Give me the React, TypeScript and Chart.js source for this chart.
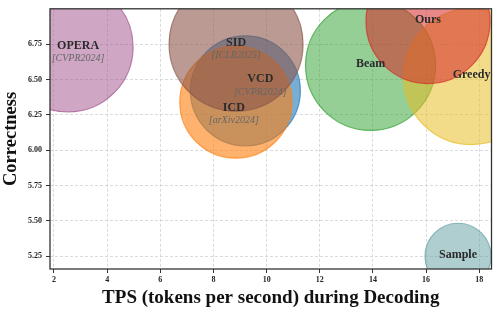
import { useEffect, useRef } from 'react';
import { Chart, registerables } from 'chart.js';

Chart.register(...registerables);

// ---- data (listed in drawing order: later points are painted on top) ----
const methods = ['OPERA', 'VCD', 'ICD', 'SID', 'Beam', 'Greedy', 'Ours', 'Sample'];
const venues = ['[CVPR2024]', '[CVPR2024]', '[arXiv2024]', '[ICLR2025]', '', '', '', ''];
const tps = [2.53, 9.2, 8.84, 8.85, 13.91, 17.71, 16.07, 17.2];
const correctness = [6.73, 6.42, 6.34, 6.75, 6.6, 6.52, 6.91, 5.25];
const bubbleSize = [65, 55, 56, 67, 65, 68, 62, 33];
const xTicks = [2, 4, 6, 8, 10, 12, 14, 16, 18];
const yTicks = [5.25, 5.5, 5.75, 6.0, 6.25, 6.5, 6.75];

// ---- styles ----
const fills = [
  'rgba(160,80,140,0.5)',
  'rgba(31,119,180,0.6)',
  'rgba(255,127,14,0.6)',
  'rgba(140,86,75,0.6)',
  'rgba(44,160,44,0.5)',
  'rgba(232,190,40,0.55)',
  'rgba(214,39,40,0.55)',
  'rgba(95,158,160,0.5)',
];
const edges = [
  'rgba(160,80,140,0.7)',
  'rgba(31,119,180,0.7)',
  'rgba(255,127,14,0.7)',
  'rgba(140,86,75,0.7)',
  'rgba(44,160,44,0.7)',
  'rgba(232,190,40,0.7)',
  'rgba(214,39,40,0.7)',
  'rgba(95,158,160,0.7)',
];
// label placement offsets (px) relative to the bubble centre
const labelDx = [10, 15, -2, 0, 0, 0, 0, 0];
const labelDy = [-1.5, -11.5, 5.5, -1.5, -1.5, -1.5, -1.5, -1];

const SERIF = "'Liberation Serif', 'Times New Roman', serif";

const labelPlugin = {
  id: 'bubbleLabels',
  afterDatasetsDraw(chart: any) {
    const { ctx, chartArea } = chart;
    const meta = chart.getDatasetMeta(0);
    ctx.save();
    ctx.beginPath();
    ctx.rect(chartArea.left, chartArea.top, chartArea.right - chartArea.left, chartArea.bottom - chartArea.top);
    ctx.clip();
    ctx.textAlign = 'center';
    ctx.textBaseline = 'middle';
    meta.data.forEach((el: any, i: number) => {
      const x = el.x + labelDx[i];
      const y = el.y + labelDy[i];
      ctx.fillStyle = '#2b2b2b';
      ctx.font = `bold 12px ${SERIF}`;
      ctx.fillText(methods[i], x, y);
      if (venues[i]) {
        ctx.fillStyle = '#666666';
        ctx.font = `italic 10px ${SERIF}`;
        ctx.fillText(venues[i], x, y + 13);
      }
    });
    ctx.restore();
  },
  afterDraw(chart: any) {
    const { ctx, chartArea } = chart;
    ctx.save();
    ctx.strokeStyle = '#333333';
    ctx.lineWidth = 1.3;
    ctx.strokeRect(chartArea.left, chartArea.top, chartArea.right - chartArea.left, chartArea.bottom - chartArea.top);
    ctx.restore();
  },
};

export default function App() {
  const ref = useRef<HTMLCanvasElement>(null);
  useEffect(() => {
    document.body.style.margin = '0';
    const chart = new Chart(ref.current as HTMLCanvasElement, {
      type: 'bubble',
      data: {
        datasets: [
          {
            data: methods.map((_, i) => ({ x: tps[i], y: correctness[i], r: bubbleSize[i] })),
            backgroundColor: fills,
            borderColor: edges,
            borderWidth: 1.2,
            clip: 0,
          } as any,
        ],
      },
      options: {
        responsive: false,
        animation: false,
        events: [],
        layout: { autoPadding: false, padding: { top: 5, right: 6.5, left: 0, bottom: 0 } },
        plugins: { legend: { display: false }, tooltip: { enabled: false } },
        scales: {
          x: {
            type: 'linear',
            min: 1.85,
            max: 18.46,
            afterBuildTicks: (s: any) => {
              s.ticks = xTicks.map((v) => ({ value: v }));
            },
            afterFit: (s: any) => {
              s.height = 44;
            },
            ticks: {
              font: { family: SERIF, size: 8, weight: 'bold' },
              color: '#222',
              padding: 2,
              maxRotation: 0,
              callback: (v: any) => String(v),
            },
            grid: {
              color: '#d0d0d0',
              lineWidth: 0.8,
              tickLength: 4,
              tickColor: '#333',
              tickWidth: 1,
            },
            border: { display: false, dash: [3, 2] },
            title: {
              display: true,
              text: 'TPS (tokens per second) during Decoding',
              font: { family: SERIF, size: 19, weight: 'bold' },
              color: '#111',
              padding: { top: 0, bottom: 4 },
            },
          },
          y: {
            type: 'linear',
            min: 5.16,
            max: 7.0,
            afterBuildTicks: (s: any) => {
              s.ticks = yTicks.map((v) => ({ value: v }));
            },
            afterFit: (s: any) => {
              s.width = 50;
            },
            ticks: {
              font: { family: SERIF, size: 8, weight: 'bold' },
              color: '#222',
              padding: 4,
              callback: (v: any) => Number(v).toFixed(2),
            },
            grid: {
              color: '#d0d0d0',
              lineWidth: 0.8,
              tickLength: 4,
              tickColor: '#333',
              tickWidth: 1,
            },
            border: { display: false, dash: [3, 2] },
            title: {
              display: true,
              text: 'Correctness',
              font: { family: SERIF, size: 18.5, weight: 'bold' },
              color: '#111',
              padding: { top: 0, bottom: 0 },
            },
          },
        },
      } as any,
      plugins: [labelPlugin],
    });
    return () => chart.destroy();
  }, []);
  return (
    <div style={{ width: 498, height: 313 }}>
      <canvas ref={ref} width={498} height={313} style={{ display: 'block' }} />
    </div>
  );
}
